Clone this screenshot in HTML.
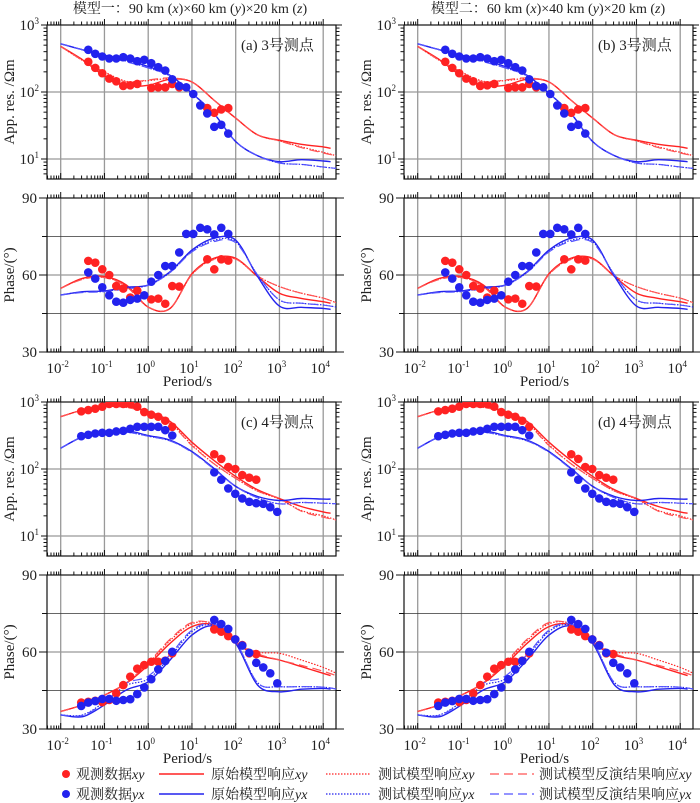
<!DOCTYPE html>
<html><head><meta charset="utf-8">
<style>
html,body{margin:0;padding:0;background:#fff;}
svg{display:block;font-family:"Liberation Serif","Noto Serif CJK SC","Noto Sans CJK SC",serif;}
</style></head>
<body>
<svg id="chart" width="700" height="803" viewBox="0 0 700 803" xmlns="http://www.w3.org/2000/svg">
<text x="190" y="13" font-size="14" text-anchor="middle" fill="#222">模型一：90 km (<tspan font-style="italic">x</tspan>)×60 km (<tspan font-style="italic">y</tspan>)×20 km (<tspan font-style="italic">z</tspan>)</text>
<text x="548" y="13" font-size="14" text-anchor="middle" fill="#222">模型二：60 km (<tspan font-style="italic">x</tspan>)×40 km (<tspan font-style="italic">y</tspan>)×20 km (<tspan font-style="italic">z</tspan>)</text>
<g id="legend" font-size="14" fill="#222">
  <g><circle cx="66" cy="774" r="4" fill="#f22"/><text x="76" y="779">观测数据<tspan font-style="italic">xy</tspan></text></g>
  <g><circle cx="66" cy="794" r="4" fill="#22e"/><text x="76" y="799">观测数据<tspan font-style="italic">yx</tspan></text></g>
  <g><line x1="159" y1="774" x2="204" y2="774" stroke="#f22" stroke-width="1.5"/><text x="211" y="779">原始模型响应<tspan font-style="italic">xy</tspan></text></g>
  <g><line x1="159" y1="794" x2="204" y2="794" stroke="#22e" stroke-width="1.5"/><text x="211" y="799">原始模型响应<tspan font-style="italic">yx</tspan></text></g>
  <g><line x1="326" y1="774" x2="371" y2="774" stroke="#f22" stroke-width="1.3" stroke-dasharray="1.5,1.5"/><text x="378" y="779">测试模型响应<tspan font-style="italic">xy</tspan></text></g>
  <g><line x1="326" y1="794" x2="371" y2="794" stroke="#22e" stroke-width="1.3" stroke-dasharray="1.5,1.5"/><text x="378" y="799">测试模型响应<tspan font-style="italic">yx</tspan></text></g>
  <g><line x1="490" y1="774" x2="534" y2="774" stroke="#f55" stroke-width="1.3" stroke-dasharray="9,5"/><text x="539" y="779">测试模型反演结果响应<tspan font-style="italic">xy</tspan></text></g>
  <g><line x1="490" y1="794" x2="534" y2="794" stroke="#55f" stroke-width="1.3" stroke-dasharray="9,5"/><text x="539" y="799">测试模型反演结果响应<tspan font-style="italic">yx</tspan></text></g>
</g>
</svg>
<script>
// ---- data ----
const curveLogT = [-2,-1.5,-1,-0.5,0,0.5,1,1.5,2,2.5,3,3.5,4,4.17];
const curveLogTLong = [-2,-1.5,-1,-0.5,0,0.5,1,1.5,2,2.5,3,3.5,4,4.3];
const obsLogT3 = [-1.37,-1.21,-1.05,-0.89,-0.73,-0.57,-0.41,-0.25,-0.09,0.07,0.23,0.39,0.55,0.71,0.87,1.03,1.19,1.35,1.51,1.67,1.83];
const obsLogT4 = [-1.53,-1.37,-1.21,-1.05,-0.89,-0.73,-0.57,-0.41,-0.25,-0.09,0.07,0.23,0.39,0.55,0.71,0.87,1.03,1.19,1.35,1.51,1.67,1.83,1.99,2.15,2.31,2.47,2.63,2.79,2.95];

const s3RhoXY = [2.45,2.36,2.28,2.20,2.16,2.09,2.10,2.12,null,2.06,2.07,2.07,2.12,2.07,null,null,null,1.76,1.69,1.74,1.76];
const s3RhoYX = [2.63,2.57,2.53,2.50,2.50,2.52,2.50,2.46,2.48,2.43,2.37,2.32,2.19,2.09,2.07,1.97,1.80,1.68,1.48,1.51,1.38];
const s3PhiXY = [65.5,64.8,62.2,60,55.7,54.7,51.2,53.9,null,50.5,50.8,48.8,55.7,55.5,null,null,null,66.1,62.2,66.1,65.6];
const s3PhiYX = [61,58.6,55.2,52.1,49.6,49.2,50.3,50.8,52.1,57.4,60,63.5,63.5,68.8,76,76,78.4,77.8,75.8,78.4,76];
const s3RhoXYOrig = [2.68,2.48,2.24,2.10,2.10,2.19,2.15,1.88,1.61,1.36,1.28,1.22,1.18,1.16];
const s3RhoXYTest = [2.68,2.47,2.30,2.16,2.17,2.20,2.15,1.88,1.61,1.36,1.27,1.18,1.10,1.05];
const s3RhoXYInv  = [2.68,2.47,2.28,2.15,2.18,2.21,2.15,1.88,1.61,1.36,1.27,1.17,1.09,1.05];
const s3RhoYXOrig = [2.72,2.63,2.55,2.48,2.38,2.25,1.98,1.68,1.26,1.05,0.96,0.99,0.97,0.96];
const s3RhoYXTest = [2.72,2.63,2.54,2.46,2.36,2.24,1.98,1.68,1.26,1.05,0.94,0.92,0.88,0.86];
const s3RhoYXInv  = [2.72,2.63,2.53,2.45,2.36,2.24,1.98,1.68,1.26,1.05,0.94,0.92,0.88,0.86];
const s3PhiXYOrig = [54.8,58.7,59.4,56.1,47.5,47,60.5,66.5,66.5,59.4,52.9,50.9,49.6,49];
const s3PhiXYTest = [54.8,58.5,59.0,55.8,47.5,47,60.2,66.2,66.2,59.6,55.5,52.9,51,49.2];
const s3PhiXYInv  = [54.8,58.3,59.0,55.5,47.5,47,60.2,66,66.2,59.6,55.5,52.9,51,49.2];
const s3PhiYXOrig = [52.2,53.5,53.8,55.2,56.1,61.3,69.7,74.3,73.6,59.4,47.9,47.4,47,46.6];
const s3PhiYXTest = [52.2,53.4,53.6,54.8,56,61,69.2,73.5,73,60,50.3,49,48.3,47.5];
const s3PhiYXInv  = [52.2,53.2,53.5,54.6,56,61,69,73,72.6,60,50.3,49,48.3,47.5];

const s4RhoXY = [2.86,2.88,2.90,2.93,2.97,2.97,2.97,2.97,2.93,2.85,2.81,2.78,2.72,2.63,null,null,null,null,null,2.22,2.15,2.03,2.0,1.91,1.87,1.84,null,null,null];
const s4RhoYX = [2.49,2.51,2.53,2.54,2.54,2.56,2.57,2.60,2.63,2.63,2.63,2.63,2.58,2.50,null,null,null,null,null,1.95,1.84,1.71,1.63,1.56,1.51,1.49,1.48,1.43,1.36];
const s4PhiXY = [40.3,40.6,41,40.5,41.3,43.9,47.1,50.4,53.5,54.9,56.2,56.2,56.6,59.5,null,null,null,null,null,68.8,67.9,66.2,64.9,62.7,59.5,59.2,null,null,null];
const s4PhiYX = [39,40.3,40.9,41.7,41.7,41,41.3,41.6,43.6,46.2,49.4,53.2,56.5,60.1,null,null,null,null,null,72.5,70.9,69,64.9,62.5,59.7,55.8,54,51.7,47.8];
const s4RhoXYOrig = [2.78,2.88,2.93,2.93,2.86,2.71,2.40,2.13,1.89,1.69,1.56,1.44,1.36,1.34];
const s4RhoXYTest = [2.78,2.88,2.93,2.92,2.85,2.69,2.36,2.08,1.86,1.67,1.55,1.38,1.30,1.24];
const s4RhoXYInv  = [2.78,2.88,2.93,2.92,2.84,2.68,2.35,2.08,1.86,1.67,1.56,1.37,1.28,1.24];
const s4RhoYXOrig = [2.31,2.48,2.54,2.57,2.50,2.43,2.26,2.01,1.74,1.59,1.53,1.56,1.55,1.55];
const s4RhoYXTest = [2.31,2.48,2.54,2.55,2.49,2.42,2.26,2.01,1.74,1.57,1.48,1.50,1.49,1.48];
const s4RhoYXInv  = [2.31,2.48,2.53,2.55,2.49,2.42,2.25,2.00,1.74,1.57,1.48,1.50,1.49,1.48];
const s4PhiXYOrig = [36.8,39.4,43.2,47.8,54.9,63.4,69.9,70.5,63.4,58.8,56.9,54.3,51.7,50.8];
const s4PhiXYTest = [36.8,39.4,43.2,48,55.5,64.5,71,71,63.8,60,59.5,56.9,54,51.7];
const s4PhiXYInv  = [36.8,39.4,43.2,48,55.8,65,71.5,70.8,63.6,59.3,56.9,54.8,52.5,50.8];
const s4PhiYXOrig = [35.5,34.8,39.4,45.2,48.4,56.9,66.6,70.1,63.4,47.1,44.5,45.5,45.8,45.5];
const s4PhiYXTest = [35.5,35.5,40.5,47,49.5,58,68,70.5,63.8,48,46.5,46.5,46.3,45.6];
const s4PhiYXInv  = [35.5,35.3,40.3,47.8,50.6,59,68.5,71,64,48,46.5,46.5,46.3,45.6];

const panelLabels = ["(a) 3号测点","(b) 3号测点","(c) 4号测点","(d) 4号测点"];
const xTickExp = [-2,-1,0,1,2,3,4];
const rhoTickExp = [1,2,3];
const phiTicks = [30,60,90];

// ---- drawing ----
const NS="http://www.w3.org/2000/svg";
const svg=document.getElementById('chart');
const RED="#f22", BLUE="#22e", RED2="#f55", BLUE2="#55f";
function mk(tag,attrs,parent){const e=document.createElementNS(NS,tag);for(const k in attrs)e.setAttribute(k,attrs[k]);(parent||svg).appendChild(e);return e;}

const cols=[{left:47,right:336,x0:60.7},{left:404,right:693,x0:417.7}];
const rows=[{rhoTop:25,rhoBot:179,phiTop:198,phiBot:352,lab:368,per:381},{rhoTop:402,rhoBot:556,phiTop:575,phiBot:729,lab:745,per:758}];
const DEC=43.75, RDEC=67;

function smoothPath(pts){
  if(pts.length<2)return '';
  let d='M'+pts[0][0].toFixed(1)+','+pts[0][1].toFixed(1);
  for(let i=0;i<pts.length-1;i++){
    const p0=pts[i-1]||pts[i],p1=pts[i],p2=pts[i+1],p3=pts[i+2]||p2;
    const c1=[p1[0]+(p2[0]-p0[0])/6,p1[1]+(p2[1]-p0[1])/6];
    const c2=[p2[0]-(p3[0]-p1[0])/6,p2[1]-(p3[1]-p1[1])/6];
    d+=' C'+c1[0].toFixed(1)+','+c1[1].toFixed(1)+' '+c2[0].toFixed(1)+','+c2[1].toFixed(1)+' '+p2[0].toFixed(1)+','+p2[1].toFixed(1);
  }
  return d;
}

let clipId=0;
function drawPanel(ci,ri,kind,site){
  const c=cols[ci],r=rows[ri];
  const top=kind==='rho'?r.rhoTop:r.phiTop, bot=kind==='rho'?r.rhoBot:r.phiBot;
  const xs=l=>c.x0+(l+2)*DEC;
  const ys=kind==='rho'?(v=>top+(3-v)*RDEC):(v=>top+(90-v)*(bot-top)/60);
  const g=mk('g',{});
  
  
  const cid='clip'+(clipId++);
  const cp=mk('clipPath',{id:cid},g);mk('rect',{x:c.left,y:top,width:c.right-c.left,height:bot-top},cp);
  for(const e of xTickExp){const x=xs(e);const gl=mk('line',{x1:x,y1:top,x2:x,y2:bot,stroke:'#999','stroke-width':1.3},g);}
  if(kind==='rho'){for(const e of [1,2]){const y=ys(e);mk('line',{x1:c.left,y1:y,x2:c.right,y2:y,stroke:'#999','stroke-width':1.3},g);}}
  else{for(const v of [45,60,75]){const y=ys(v);mk('line',{x1:c.left,y1:y,x2:c.right,y2:y,stroke:v===60?'#999':'#333','stroke-width':v===60?1.3:0.8},g);}}
  const fr=mk('rect',{x:c.left,y:top,width:c.right-c.left,height:bot-top,fill:'none',stroke:'#111','stroke-width':1.2},g);
  
  for(let e=-3;e<=4;e++){for(let m=1;m<=9;m++){const l=e+Math.log10(m);const x=xs(l);if(x<c.left||x>c.right)continue;const len=m===1?6:3.5;
    mk('line',{x1:x,y1:top,x2:x,y2:top-len,stroke:'#111','stroke-width':1},g);
    mk('line',{x1:x,y1:bot,x2:x,y2:bot-len,stroke:'#111','stroke-width':1},g);}}
  if(kind==='rho'){
    for(let e=0;e<=3;e++){for(let m=1;m<=9;m++){const v=e+Math.log10(m);const y=ys(v);if(y<top-0.5||y>bot)continue;const len=m===1?6:3.5;
      mk('line',{x1:c.left,y1:y,x2:c.left-len,y2:y,stroke:'#111','stroke-width':1},g);
      mk('line',{x1:c.right,y1:y,x2:c.right+len,y2:y,stroke:'#111','stroke-width':1},g);}}
    for(const e of rhoTickExp){const t=mk('text',{x:c.left-8,y:ys(e)+5,'font-size':15,'text-anchor':'end',fill:'#222'},g);t.appendChild(document.createTextNode('10'));const s=mk('tspan',{'font-size':9,dy:-6},t);s.textContent=String(e);}
    const yt=mk('text',{x:0,y:0,'font-size':15,'text-anchor':'middle',fill:'#222',transform:`translate(${c.left-33},${(top+bot)/2}) rotate(-90)`},g);
    yt.textContent='App. res. /Ωm';
    const pl=mk('text',{x:c.left+194,y:top+25,'font-size':15,fill:'#222'},g);
    pl.textContent=panelLabels[ri*2+ci];
  } else {
    for(let v=30;v<=90;v+=15){const y=ys(v);const len=(v%30===0)?8:5;
      mk('line',{x1:c.left,y1:y,x2:c.left-len,y2:y,stroke:'#111','stroke-width':1},g);
      mk('line',{x1:c.right,y1:y,x2:c.right+len,y2:y,stroke:'#111','stroke-width':1},g);}
    for(const v of phiTicks){const t=mk('text',{x:c.left-10,y:ys(v)+5,'font-size':15,'text-anchor':'end',fill:'#222'},g);t.textContent=String(v);}
    const yt=mk('text',{x:0,y:0,'font-size':15,'text-anchor':'middle',fill:'#222',transform:`translate(${c.left-33},${(top+bot)/2}) rotate(-90)`},g);
    yt.textContent='Phase/(°)';
    for(const e of xTickExp){const t=mk('text',{x:xs(e)-3,y:r.lab+5,'font-size':15,'text-anchor':'middle',fill:'#222'},g);t.appendChild(document.createTextNode('10'));const s=mk('tspan',{'font-size':9,dy:-6},t);s.textContent=String(e);}
    const xt=mk('text',{x:(c.left+c.right)/2-4,y:r.per+5,'font-size':15,'text-anchor':'middle',fill:'#222'},g);
    xt.textContent='Period/s';
  }
  const D = site===3
    ? (kind==='rho'?{o1:s3RhoXY,o2:s3RhoYX,c:[s3RhoXYOrig,s3RhoXYTest,s3RhoXYInv,s3RhoYXOrig,s3RhoYXTest,s3RhoYXInv]}:{o1:s3PhiXY,o2:s3PhiYX,c:[s3PhiXYOrig,s3PhiXYTest,s3PhiXYInv,s3PhiYXOrig,s3PhiYXTest,s3PhiYXInv]})
    : (kind==='rho'?{o1:s4RhoXY,o2:s4RhoYX,c:[s4RhoXYOrig,s4RhoXYTest,s4RhoXYInv,s4RhoYXOrig,s4RhoYXTest,s4RhoYXInv]}:{o1:s4PhiXY,o2:s4PhiYX,c:[s4PhiXYOrig,s4PhiXYTest,s4PhiXYInv,s4PhiYXOrig,s4PhiYXTest,s4PhiYXInv]});
  const obsT = site===3?obsLogT3:obsLogT4;
  const sg=mk('g',{'clip-path':`url(#${cid})`},g);
  const styles=[[RED,'none',1.4,'orig-xy'],[RED,'1.5,1.5',1.2,'test-xy'],[RED2,'9,5',1.2,'inv-xy'],[BLUE,'none',1.4,'orig-yx'],[BLUE,'1.5,1.5',1.2,'test-yx'],[BLUE2,'9,5',1.2,'inv-yx']];
  D.c.forEach((arr,i)=>{
    const tt=styles[i][1]==='none'?curveLogT:curveLogTLong;
    const pts=arr.map((v,j)=>[xs(tt[j]),ys(v)]);
    const p=mk('path',{d:smoothPath(pts),fill:'none',stroke:styles[i][0],'stroke-width':styles[i][2],'stroke-dasharray':styles[i][1]},sg);
    
    
  });
  [[D.o1,RED,'obs-xy'],[D.o2,BLUE,'obs-yx']].forEach(([arr,col,nm])=>{
    arr.forEach((v,j)=>{if(v===null)return;
      const d=mk('circle',{cx:xs(obsT[j]),cy:ys(v),r:4.3,fill:col},sg);
      
      });
  });
}
for(let ri=0;ri<2;ri++)for(let ci=0;ci<2;ci++){const site=ri===0?3:4;drawPanel(ci,ri,'rho',site);drawPanel(ci,ri,'phi',site);}
</script>
</body></html>
